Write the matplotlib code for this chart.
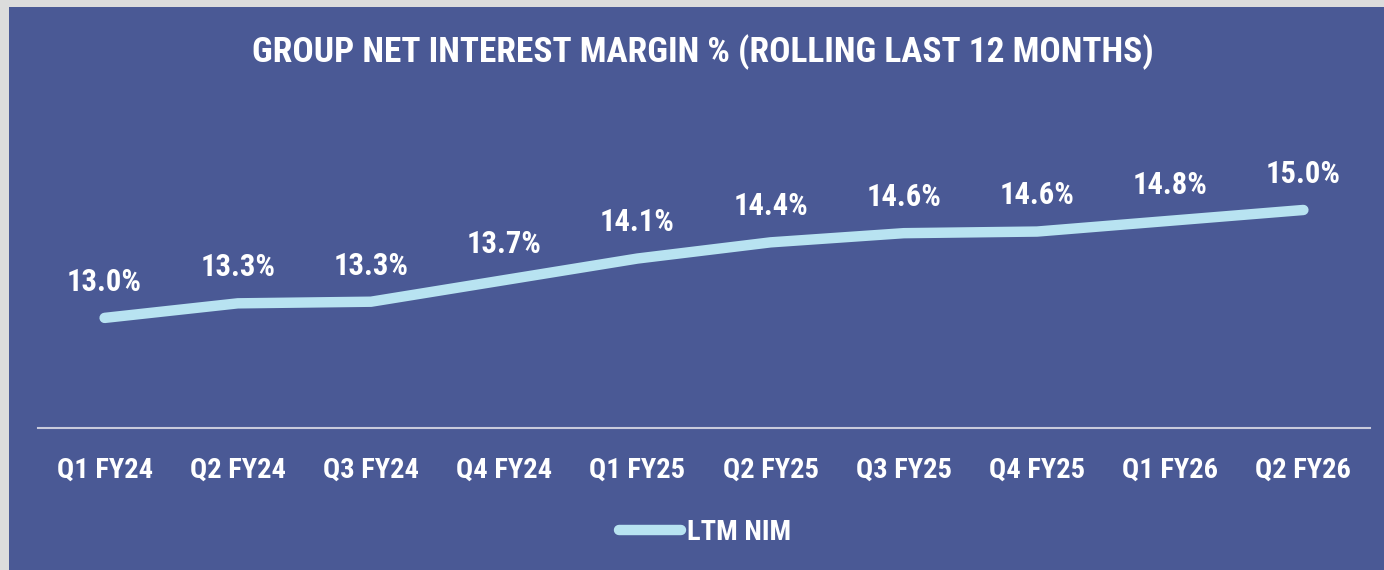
import matplotlib
matplotlib.use("Agg")
import matplotlib.pyplot as plt
import matplotlib.font_manager as fm
from matplotlib.patches import Rectangle

categories = ["Q1 FY24", "Q2 FY24", "Q3 FY24", "Q4 FY24", "Q1 FY25",
              "Q2 FY25", "Q3 FY25", "Q4 FY25", "Q1 FY26", "Q2 FY26"]
ltm_nim = [13.0, 13.27, 13.3, 13.7, 14.1, 14.4, 14.57, 14.6, 14.8, 15.0]
series_name = "LTM NIM"
title = "GROUP NET INTEREST MARGIN % (ROLLING LAST 12 MONTHS)"

names = {f.name for f in fm.fontManager.ttflist}
font = "DejaVu Sans"
for cand in ["Roboto Condensed", "Liberation Sans Narrow", "Open Sans Condensed"]:
    if cand in names:
        font = cand
        break
plt.rcParams["font.family"] = [font, "DejaVu Sans"]

BG = "#4a5995"
LINE = "#b8e3f1"
W, H = 1384, 570

fig = plt.figure(figsize=(W / 100, H / 100), dpi=100)
fig.patch.set_facecolor("#dcdcdc")
fig.patches.append(Rectangle((9 / W, 0), 1, (H - 7) / H, transform=fig.transFigure,
                             facecolor=BG, edgecolor="none", zorder=-5))

ax = fig.add_axes([38 / W, (H - 428) / H, (1370 - 38) / W, (428 - 156) / H])
ax.set_facecolor("none")
ax.set_zorder(2)
x = list(range(len(categories)))
ax.plot(x, ltm_nim, color=LINE, lw=7.5, solid_capstyle="round",
        solid_joinstyle="round", label=series_name)
for xi, v in zip(x, ltm_nim):
    ax.annotate(f"{v:.1f}%", (xi, v), xytext=(0, 26), textcoords="offset points",
                ha="center", va="center", color="white", fontsize=22, fontweight="bold")

ax.set_xlim(-0.5, len(categories) - 0.5)
ax.set_ylim(10.96, 16.0)
ax.set_yticks([])
ax.set_xticks(x)
ax.set_xticklabels(categories, color="white", fontsize=20.5, fontweight="bold")
ax.tick_params(axis="x", length=0, pad=21)
for s in ["top", "left", "right"]:
    ax.spines[s].set_visible(False)
ax.spines["bottom"].set_color("#c9cbdc")
ax.spines["bottom"].set_linewidth(1.5)

fig.text(703 / W, 1 - 52 / H, title, ha="center", va="center", color="white",
         fontsize=25.5, fontweight="bold", zorder=3)

leg = fig.legend(loc="center", bbox_to_anchor=(705 / W, 1 - 532 / H), frameon=False,
                 handlelength=2.2, handletextpad=0.2,
                 prop={"weight": "bold", "size": 20.5})
for t in leg.get_texts():
    t.set_color("white")

fig.savefig("out.png", dpi=100, facecolor=fig.get_facecolor())
